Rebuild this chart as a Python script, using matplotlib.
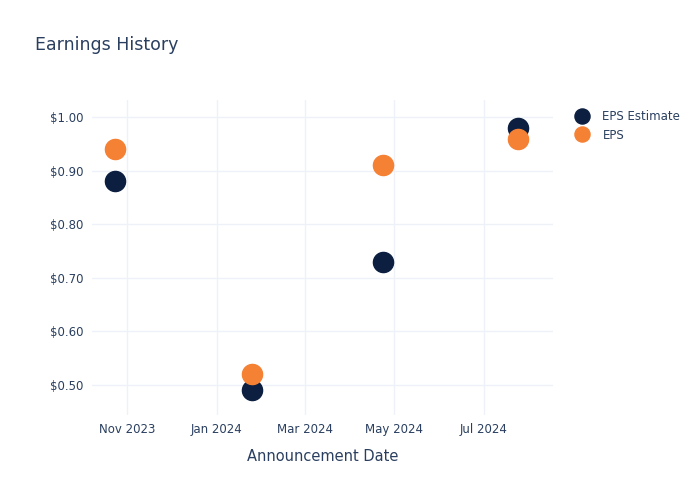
import numpy as np
import matplotlib.pyplot as plt
import matplotlib.dates as mdates
from datetime import datetime

# announcement dates and eps values
dates = [datetime(2023, 10, 24), datetime(2024, 1, 25), datetime(2024, 4, 23), datetime(2024, 7, 24)]
eps_estimate = [0.88, 0.49, 0.73, 0.98]
eps_actual = [0.94, 0.52, 0.91, 0.96]

text_color = "#2a3f5f"
grid_color = "#eef2f8"

fig = plt.figure(figsize=(7, 5), dpi=100)
ax = fig.add_axes([0.131, 0.17, 0.659, 0.63])

ax.plot(dates, eps_estimate, "o", color="#0c1f40", markersize=14.5, label="EPS Estimate", zorder=3)
ax.plot(dates, eps_actual, "o", color="#f58134", markersize=14.5, label="EPS", zorder=4)

ax.set_xlim(datetime(2023, 10, 8), datetime(2024, 8, 17))
ax.set_ylim(0.444, 1.032)
ax.set_yticks([0.5, 0.6, 0.7, 0.8, 0.9, 1.0])
ax.yaxis.set_major_formatter(plt.FuncFormatter(lambda v, p: f"${v:.2f}"))
ax.xaxis.set_major_locator(mdates.MonthLocator(bymonth=[1, 3, 5, 7, 11]))
ax.xaxis.set_major_formatter(mdates.DateFormatter("%b %Y"))

ax.grid(True, color=grid_color, linewidth=1)
ax.set_axisbelow(True)
for s in ax.spines.values():
    s.set_visible(False)
ax.tick_params(length=0, labelsize=8.5, labelcolor=text_color, pad=6)

ax.set_xlabel("Announcement Date", fontsize=10.5, color=text_color, labelpad=9)
fig.text(0.05, 0.911, "Earnings History", fontsize=12.5, color=text_color, va="center")

leg = ax.legend(loc="upper left", bbox_to_anchor=(1.015, 1.003), frameon=False,
                fontsize=8.5, handletextpad=0.7, labelspacing=0.5, markerscale=0.75)
for t in leg.get_texts():
    t.set_color(text_color)

fig.savefig("out.png", dpi=100)
